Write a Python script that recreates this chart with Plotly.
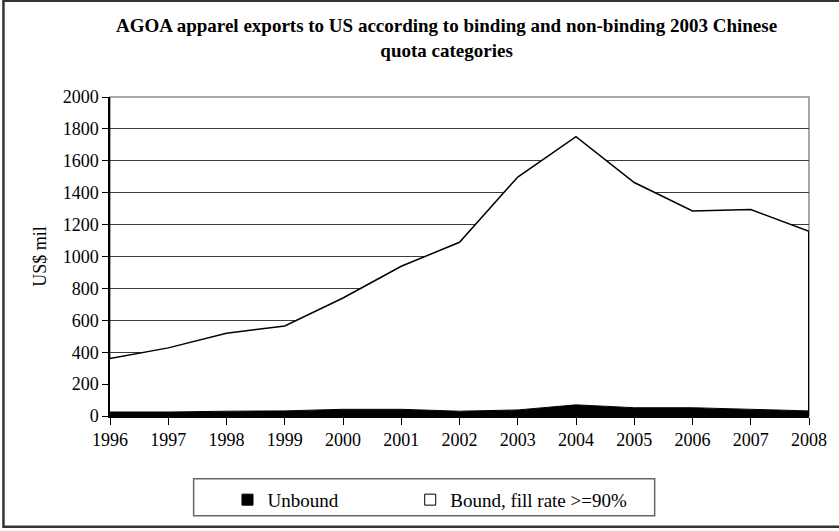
import plotly.graph_objects as go

years = [1996, 1997, 1998, 1999, 2000, 2001, 2002, 2003, 2004, 2005, 2006, 2007, 2008]
unbound = [25, 25, 30, 32, 42, 42, 30, 38, 70, 52, 52, 42, 32]
total = [360, 427, 519, 564, 740, 939, 1089, 1498, 1752, 1464, 1286, 1294, 1158]
bound = [t - u for t, u in zip(total, unbound)]
y_ticks = list(range(0, 2001, 200))

W, H = 839, 531
L, R, T, B = 110, 27, 97, 114
pw, ph = W - L - R, H - T - B

def px(x):
    return (x - L) / pw

def py(y):
    return (H - B - y) / ph

FONT = "Liberation Serif, Times New Roman, serif"

fig = go.Figure()
fig.add_trace(go.Scatter(
    x=years, y=unbound, name="Unbound", mode="lines",
    line=dict(color="black", width=1), fillcolor="black",
    stackgroup="a", showlegend=False))
fig.add_trace(go.Scatter(
    x=years, y=bound, name="Bound, fill rate >=90%", mode="lines",
    line=dict(color="black", width=1.5), fillcolor="white",
    stackgroup="a", showlegend=False))
# right edge of the stacked area
fig.add_trace(go.Scatter(
    x=[years[-1], years[-1]], y=[0, total[-1]], mode="lines",
    line=dict(color="black", width=2), showlegend=False, hoverinfo="skip"))
# legend entries
fig.add_trace(go.Scatter(
    x=[None], y=[None], mode="markers", name="Unbound", legend="legend",
    marker=dict(symbol="square", size=11, color="black", line=dict(color="black", width=1))))
fig.add_trace(go.Scatter(
    x=[None], y=[None], mode="markers", name="Bound, fill rate >=90%", legend="legend2",
    marker=dict(symbol="square", size=11, color="white", line=dict(color="black", width=1))))

shapes = [
    # plot area border (gray)
    dict(type="rect", xref="paper", yref="paper", x0=0, x1=1, y0=0, y1=1,
         line=dict(color="#8c8c8c", width=1.5), layer="below"),
    # outer frame
    dict(type="rect", xref="paper", yref="paper", x0=px(3), x1=px(845), y0=py(528), y1=py(0.5),
         line=dict(color="#333333", width=2.5)),
    # legend box
    dict(type="rect", xref="paper", yref="paper", x0=px(194), x1=px(657), y0=py(517), y1=py(480),
         line=dict(color="#666666", width=1.5)),
]

legend_common = dict(
    orientation="h", xanchor="left", yanchor="top", y=py(482),
    bgcolor="rgba(0,0,0,0)", borderwidth=0,
    font=dict(family=FONT, size=19), itemwidth=30)

fig.update_layout(
    width=W, height=H,
    margin=dict(l=L, r=R, t=T, b=B),
    paper_bgcolor="white", plot_bgcolor="white",
    font=dict(family=FONT, size=18, color="black"),
    title=dict(
        text="AGOA apparel exports to US according to binding and non-binding 2003 Chinese<br>quota categories",
        x=px(448), xanchor="center", xref="paper",
        y=1 - 32 / H, yanchor="middle", yref="container",
        font=dict(family=FONT, size=19, color="black", weight="bold")),
    xaxis=dict(
        range=[years[0], years[-1]], tickmode="array", tickvals=years,
        ticktext=[str(y) for y in years],
        showgrid=False, zeroline=False, showline=True, linecolor="black", linewidth=1.5,
        ticks="outside", ticklen=7, tickcolor="black", tickwidth=1,
        tickfont=dict(family=FONT, size=18)),
    yaxis=dict(
        range=[0, 2000], tickmode="array", tickvals=y_ticks,
        title=dict(text="US$ mil", font=dict(family=FONT, size=18), standoff=11),
        showgrid=True, gridcolor="#3a3a3a", gridwidth=1,
        zeroline=False, showline=True, linecolor="black", linewidth=1.5,
        ticks="outside", ticklen=6, tickcolor="black", tickwidth=1,
        tickfont=dict(family=FONT, size=18)),
    legend=dict(x=px(228), **legend_common),
    legend2=dict(x=px(411.5), **legend_common),
    shapes=shapes,
    showlegend=True,
)

fig.write_html("out.html")
